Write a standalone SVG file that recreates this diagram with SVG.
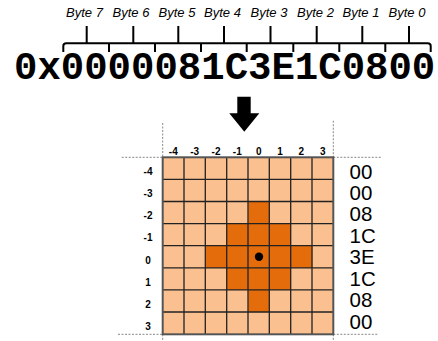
<svg xmlns="http://www.w3.org/2000/svg" width="438" height="341" viewBox="0 0 438 341">
<style>
.byte{font-family:"Liberation Sans",Arial,sans-serif;font-style:italic;font-size:13px;fill:#000;text-anchor:middle}
.hex{font-family:"Liberation Mono","Courier New",monospace;font-weight:bold;font-size:39px;fill:#000}
.ax{font-family:"Liberation Sans",Arial,sans-serif;font-weight:bold;font-size:10px;fill:#000;text-anchor:middle}
.val{font-family:"Liberation Sans",Arial,sans-serif;font-size:20.5px;fill:#000}
.brace{fill:none;stroke:#000;stroke-width:2}
.dot{fill:none;stroke:#888;stroke-width:1;stroke-dasharray:2 1.5}
.lt{fill:#FAC090}
.dk{fill:#E46C0A}
.gl{stroke:#222;stroke-width:1.3;fill:none}
</style>
<g id="byte-labels">
<text class="byte" x="84.5" y="16.7">Byte 7</text>
<text class="byte" x="131" y="16.7">Byte 6</text>
<text class="byte" x="177" y="16.7">Byte 5</text>
<text class="byte" x="222.5" y="16.7">Byte 4</text>
<text class="byte" x="269" y="16.7">Byte 3</text>
<text class="byte" x="315.5" y="16.7">Byte 2</text>
<text class="byte" x="361" y="16.7">Byte 1</text>
<text class="byte" x="407" y="16.7">Byte 0</text>
</g>
<g id="braces">
<path class="brace" d="M63.3,52 V46 Q63.3,43.3 66.3,43.3 H427.7 Q430.7,43.3 430.7,46 V52"/>
<path class="brace" d="M109,43.3 V52 M155,43.3 V52 M201,43.3 V52 M246.7,43.3 V52 M293.3,43.3 V52 M339.3,43.3 V52 M385.3,43.3 V52"/>
<path class="brace" d="M86.7,43.3 V26 M133.3,43.3 V26 M178.3,43.3 V26 M224,43.3 V26 M270.5,43.3 V26 M316.7,43.3 V26 M362.3,43.3 V26 M409,43.3 V26"/>
</g>
<g id="hex-value">
<text class="hex" x="14" y="78.5">0x0000081C3E1C0800</text>
</g>
<g id="arrow">
<path d="M237.3,96.7 H250.7 V113.3 H259.3 L244.3,131.7 L229.3,113.3 H237.3 Z" fill="#000"/>
</g>
<g id="guides">
<path class="dot" d="M162.7,123 V157.3 M333.3,120.7 V157.3 M121.7,157.3 H162.7 M333.3,157.3 H381.7 M118,334.3 H162.7 M333.3,334.3 H378 M162.7,334.3 V341 M333.3,334.3 V341"/>
</g>
<g id="grid">
<rect class="lt" x="162.7" y="157.3" width="170.6" height="177"/>
<rect class="dk" x="248.3" y="201.5" width="21.33" height="22.11"/>
<rect class="dk" x="227" y="223.6" width="64" height="22.11"/>
<rect class="dk" x="205.7" y="245.7" width="106.7" height="22.11"/>
<rect class="dk" x="227" y="267.8" width="64" height="22.11"/>
<rect class="dk" x="248.3" y="289.9" width="21.33" height="22.11"/>
<path class="gl" d="M184,157.3 V334.3 M205.3,157.3 V334.3 M226.7,157.3 V334.3 M248,157.3 V334.3 M269.3,157.3 V334.3 M290.7,157.3 V334.3 M312,157.3 V334.3 M162.7,179.4 H333.3 M162.7,201.5 H333.3 M162.7,223.6 H333.3 M162.7,245.7 H333.3 M162.7,267.8 H333.3 M162.7,289.9 H333.3 M162.7,312 H333.3"/>
<rect x="162.7" y="157.3" width="170.6" height="177" fill="none" stroke="#555" stroke-width="2"/>
<circle cx="259" cy="256.7" r="4.2" fill="#000"/>
</g>
<g id="col-labels">
<text class="ax" x="173.3" y="155">-4</text>
<text class="ax" x="194.7" y="155">-3</text>
<text class="ax" x="216" y="155">-2</text>
<text class="ax" x="237.3" y="155">-1</text>
<text class="ax" x="258.7" y="155">0</text>
<text class="ax" x="280" y="155">1</text>
<text class="ax" x="301.3" y="155">2</text>
<text class="ax" x="322.7" y="155">3</text>
</g>
<g id="row-labels">
<text class="ax" x="148" y="174.5">-4</text>
<text class="ax" x="148" y="196.8">-3</text>
<text class="ax" x="148" y="219">-2</text>
<text class="ax" x="148" y="241.2">-1</text>
<text class="ax" x="148" y="263.5">0</text>
<text class="ax" x="148" y="285.7">1</text>
<text class="ax" x="148" y="307.8">2</text>
<text class="ax" x="148" y="329.5">3</text>
</g>
<g id="row-values">
<text class="val" x="349.5" y="178.8">00</text>
<text class="val" x="349.5" y="200.2">00</text>
<text class="val" x="349.5" y="221.4">08</text>
<text class="val" x="349.5" y="242.8">1C</text>
<text class="val" x="349.5" y="264">3E</text>
<text class="val" x="349.5" y="285.6">1C</text>
<text class="val" x="349.5" y="307.3">08</text>
<text class="val" x="349.5" y="329.3">00</text>
</g>
</svg>
